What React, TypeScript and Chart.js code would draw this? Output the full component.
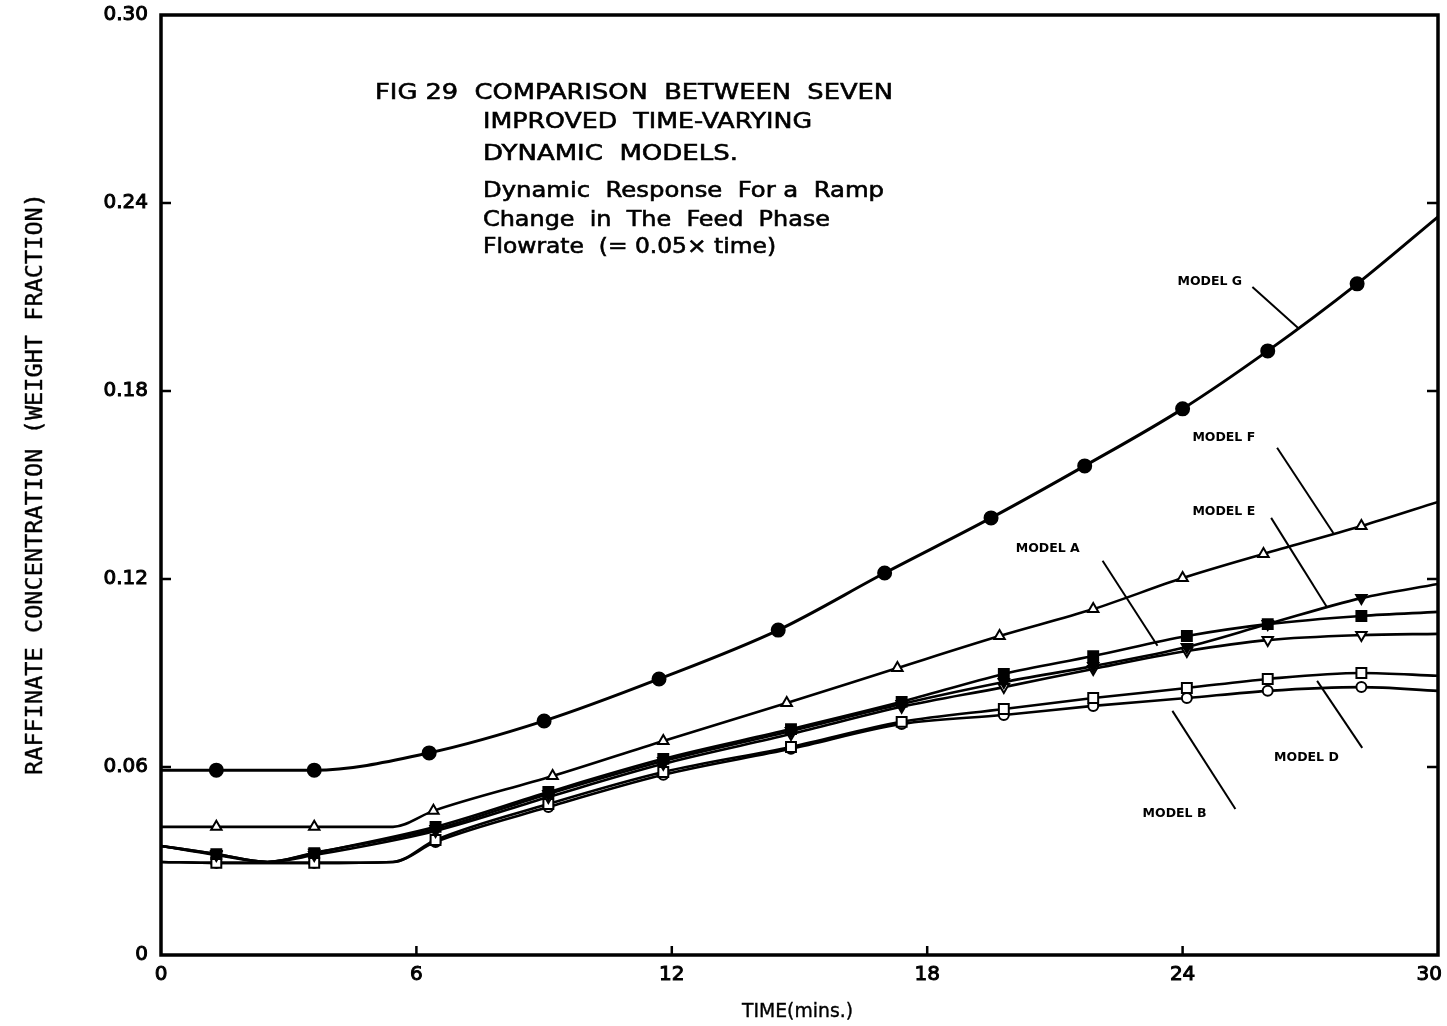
import React, { useEffect, useRef } from "react";
import { Chart, registerables } from "chart.js";
Chart.register(...registerables);

// ---- axes ----
const xTicks = [0, 6, 12, 18, 24, 30];
const xTickLabels = ["0", "6", "12", "18", "24", "30"];
const yTicks = [0, 0.06, 0.12, 0.18, 0.24, 0.3];
const yTickLabels = ["0", "0.06", "0.12", "0.18", "0.24", "0.30"];

// ---- Model G (filled circles) ----
const gMarkT = [1.3, 3.6, 6.3, 9.0, 11.7, 14.5, 17.0, 19.5, 21.7, 24.0, 26.0, 28.1];
const gMarkV = [0.059, 0.059, 0.0645, 0.0747, 0.0881, 0.1037, 0.1219, 0.1395, 0.1561, 0.1743, 0.1928, 0.2142];
const gLineT = [0, 30];
const gLineV = [0.059, 0.2356];

// ---- Model F (open triangles) ----
const fMarkT = [1.3, 3.6, 6.4, 9.2, 11.8, 14.7, 17.3, 19.7, 21.9, 24.0, 25.9, 28.2];
const fMarkV = [0.0409, 0.0409, 0.046, 0.0571, 0.0683, 0.0804, 0.0916, 0.1018, 0.1104, 0.1203, 0.128, 0.1369];
const fLineT = [0, 5.45, 30];
const fLineV = [0.0409, 0.0409, 0.1446];

// common marker times for the lower bundle
const bundleT = [1.3, 3.6, 6.45, 9.1, 11.8, 14.8, 17.4, 19.8, 21.9, 24.1, 26.0, 28.2];

// ---- Model A (filled squares) ----
const aMarkV = [0.0322, 0.0325, 0.0409, 0.052, 0.0626, 0.0721, 0.0808, 0.0897, 0.0954, 0.1018, 0.1056, 0.1082];
const aLineT = [0, 2.5, 30];
const aLineV = [0.0348, 0.0297, 0.1095];

// ---- Model E (filled inverted triangles) ----
const eMarkV = [0.0322, 0.0326, 0.0402, 0.0514, 0.0619, 0.0715, 0.0801, 0.0871, 0.0922, 0.0983, 0.1056, 0.1139];
const eLineT = [0, 2.5, 30];
const eLineV = [0.0348, 0.0297, 0.1184];

// ---- Model C (open inverted triangles) ----
const cMarkV = [0.0319, 0.0319, 0.0396, 0.0504, 0.061, 0.0705, 0.0792, 0.0855, 0.0913, 0.097, 0.1005, 0.1021];
const cLineT = [0, 2.5, 30];
const cLineV = [0.0348, 0.0297, 0.1025];

// ---- Model D (open squares) ----
const dMarkV = [0.0294, 0.0294, 0.0367, 0.0482, 0.0584, 0.0664, 0.0744, 0.0785, 0.082, 0.0852, 0.0881, 0.09];
const dLineT = [0, 5.45, 30];
const dLineV = [0.0297, 0.0297, 0.0891];

// ---- Model B (open circles) ----
const bMarkV = [0.0294, 0.0294, 0.0361, 0.0472, 0.0575, 0.0658, 0.0737, 0.0766, 0.0795, 0.082, 0.0843, 0.0855];
const bLineT = [0, 5.45, 30];
const bLineV = [0.0297, 0.0297, 0.0843];

// ---- model labels and their leader lines (data units) ----
const modelLabels = ["MODEL G", "MODEL F", "MODEL E", "MODEL A", "MODEL D", "MODEL B"];
const labelT = [23.88, 24.23, 24.23, 20.08, 26.15, 23.06];
const labelV = [0.2148, 0.165, 0.1414, 0.1296, 0.0629, 0.045];
const leaderFromT = [25.64, 26.22, 26.08, 22.12, 28.22, 25.24];
const leaderFromV = [0.2132, 0.1619, 0.1395, 0.1258, 0.0661, 0.0466];
const leaderToT = [26.74, 27.54, 27.4, 23.41, 27.16, 23.76];
const leaderToV = [0.1998, 0.1347, 0.1108, 0.0987, 0.0875, 0.0779];

const titleLines = [
  "FIG 29  COMPARISON  BETWEEN  SEVEN",
  "IMPROVED  TIME-VARYING",
  "DYNAMIC  MODELS.",
  "Dynamic  Response  For a  Ramp",
  "Change  in  The  Feed  Phase",
  "Flowrate  (= 0.05\u00d7 time)",
];

function merge(mt: number[], mv: number[], lt: number[], lv: number[]) {
  const pts = mt.map((t, i) => ({ x: t, y: mv[i] })).concat(lt.map((t, i) => ({ x: t, y: lv[i] })));
  pts.sort((a, b) => a.x - b.x);
  return pts;
}

function fitText(ctx: CanvasRenderingContext2D, text: string, x: number, y: number, w: number, stroke = 0) {
  const m = ctx.measureText(text).width;
  ctx.save();
  ctx.translate(x, y);
  ctx.scale(w / m, 1);
  ctx.fillText(text, 0, 0);
  if (stroke > 0) {
    ctx.lineWidth = stroke;
    ctx.strokeText(text, 0, 0);
  }
  ctx.restore();
}

const framePlugin = {
  id: "frame",
  afterDraw(chart: any) {
    const { ctx, chartArea: a, scales } = chart;
    const xs = scales.x;
    const ys = scales.y;
    ctx.save();
    ctx.strokeStyle = "#000";
    ctx.fillStyle = "#000";
    ctx.lineWidth = 3.5;
    ctx.strokeRect(a.left, a.top, a.right - a.left, a.bottom - a.top);
    ctx.lineWidth = 2.5;
    ctx.beginPath();
    xTicks.slice(1, -1).forEach((t) => {
      const px = xs.getPixelForValue(t);
      ctx.moveTo(px, a.bottom);
      ctx.lineTo(px, a.bottom - 9);
    });
    yTicks.slice(1, -1).forEach((v) => {
      const py = ys.getPixelForValue(v);
      ctx.moveTo(a.left, py);
      ctx.lineTo(a.left + 10, py);
      ctx.moveTo(a.right, py);
      ctx.lineTo(a.right - 11, py);
    });
    ctx.stroke();

    // tick labels
    ctx.font = '20px "DejaVu Sans"';
    ctx.lineWidth = 1;
    ctx.textAlign = "right";
    ctx.textBaseline = "middle";
    yTicks.forEach((v, i) => {
      const py = ys.getPixelForValue(v);
      ctx.fillText(yTickLabels[i], a.left - 13, py);
      ctx.strokeText(yTickLabels[i], a.left - 13, py);
    });
    ctx.textAlign = "center";
    ctx.textBaseline = "top";
    const cw = chart.width;
    xTicks.forEach((t, i) => {
      let px = xs.getPixelForValue(t);
      const w = ctx.measureText(xTickLabels[i]).width;
      if (px + w / 2 > cw - 5) px = cw - 5 - w / 2;
      ctx.fillText(xTickLabels[i], px, a.bottom + 10);
      ctx.strokeText(xTickLabels[i], px, a.bottom + 10);
    });

    // axis titles
    ctx.textAlign = "left";
    ctx.textBaseline = "middle";
    ctx.font = '20px "DejaVu Sans"';
    fitText(ctx, "TIME(mins.)", 742, a.bottom + 57, 111, 0.4);
    ctx.save();
    ctx.translate(36, 484);
    ctx.rotate(-Math.PI / 2);
    ctx.font = '23px "DejaVu Sans Mono"';
    fitText(ctx, "RAFFINATE CONCENTRATION (WEIGHT FRACTION)", -291, 0, 582, 0.4);
    ctx.restore();

    // figure title block
    const tl = [
      [375, 93, 518],
      [483, 122, 329],
      [483, 154, 255],
      [483, 192, 401],
      [483, 221, 347],
      [483, 248, 293],
    ];
    titleLines.forEach((s, i) => {
      ctx.font = i < 3 ? '22px "DejaVu Sans"' : '21px "DejaVu Sans"';
      fitText(ctx, s, tl[i][0], tl[i][1], tl[i][2], 0.6);
    });

    // model labels & leaders
    ctx.font = 'bold 12.5px "DejaVu Sans"';
    ctx.lineWidth = 2;
    modelLabels.forEach((s, i) => {
      ctx.fillText(s, xs.getPixelForValue(labelT[i]), ys.getPixelForValue(labelV[i]));
      ctx.beginPath();
      ctx.moveTo(xs.getPixelForValue(leaderFromT[i]), ys.getPixelForValue(leaderFromV[i]));
      ctx.lineTo(xs.getPixelForValue(leaderToT[i]), ys.getPixelForValue(leaderToV[i]));
      ctx.stroke();
    });
    ctx.restore();
  },
};

export default function App() {
  const ref = useRef<HTMLCanvasElement | null>(null);
  useEffect(() => {
    document.body.style.margin = "0";
    const canvas = ref.current!;
    const series: any[] = [
      { name: "Model G", mt: gMarkT, mv: gMarkV, lt: gLineT, lv: gLineV, style: "circle", r: 6.5, fill: "#000", rot: 0, lw: 3 },
      { name: "Model F", mt: fMarkT, mv: fMarkV, lt: fLineT, lv: fLineV, style: "triangle", r: 6, fill: "#fff", rot: 0, lw: 2.6 },
      { name: "Model E", mt: bundleT, mv: eMarkV, lt: eLineT, lv: eLineV, style: "triangle", r: 6, fill: "#000", rot: 180, lw: 2.6 },
      { name: "Model A", mt: bundleT, mv: aMarkV, lt: aLineT, lv: aLineV, style: "rect", r: 7, fill: "#000", rot: 0, lw: 2.6 },
      { name: "Model C", mt: bundleT, mv: cMarkV, lt: cLineT, lv: cLineV, style: "triangle", r: 6, fill: "#fff", rot: 180, lw: 2.6 },
      { name: "Model D", mt: bundleT, mv: dMarkV, lt: dLineT, lv: dLineV, style: "rect", r: 7, fill: "#fff", rot: 0, lw: 2.6 },
      { name: "Model B", mt: bundleT, mv: bMarkV, lt: bLineT, lv: bLineV, style: "circle", r: 5, fill: "#fff", rot: 0, lw: 2.6 },
    ];
    const datasets: any[] = [];
    series.forEach((s) => {
      datasets.push({
        label: s.name + " curve",
        data: merge(s.mt, s.mv, s.lt, s.lv),
        showLine: true,
        borderColor: "#000",
        borderWidth: s.lw,
        pointRadius: 0,
        cubicInterpolationMode: "monotone",
        fill: false,
        order: 2,
      });
      datasets.push({
        label: s.name,
        data: s.mt.map((t: number, i: number) => ({ x: t, y: s.mv[i] })),
        showLine: false,
        pointStyle: s.style,
        pointRadius: s.r,
        pointRotation: s.rot,
        pointBackgroundColor: s.fill,
        pointBorderColor: "#000",
        pointBorderWidth: 2,
        order: 1,
      });
    });
    const chart = new Chart(canvas, {
      type: "scatter",
      data: { datasets },
      options: {
        animation: false,
        responsive: false,
        devicePixelRatio: 1,
        layout: { padding: { left: 161, right: 6, top: 15, bottom: 71 } },
        plugins: { legend: { display: false }, tooltip: { enabled: false } },
        scales: {
          x: { type: "linear", min: 0, max: 30, display: false },
          y: { type: "linear", min: 0, max: 0.3, display: false },
        },
      },
      plugins: [framePlugin],
    });
    return () => chart.destroy();
  }, []);
  return (
    <div style={{ position: "fixed", left: 0, top: 0, background: "#fff" }}>
      <canvas ref={ref} width={1447} height={1026} style={{ width: 1447, height: 1026, display: "block" }} />
    </div>
  );
}
